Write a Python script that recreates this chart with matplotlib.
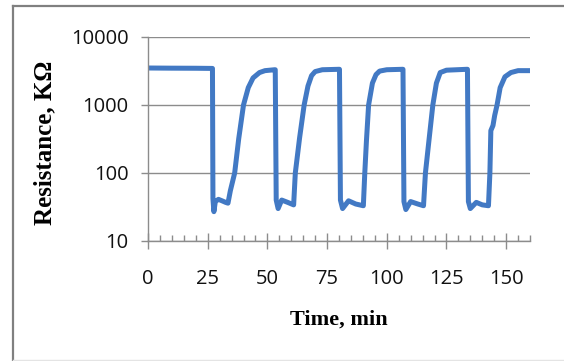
# Resistance vs time, log scale, sensor response cycles
import matplotlib.pyplot as plt
from matplotlib.ticker import FixedLocator, MultipleLocator, NullFormatter

# tiempo (min) y resistencia (kOhm)
time_min = [0, 10, 20, 27.0,
            27.2, 27.6, 28.2, 29.5, 31.0, 32.5, 33.5,
            34.5, 36.3, 38.0, 40.0, 42.0, 44.0, 46.7, 49.0, 53.0,
            53.3, 53.7, 54.5, 56.0, 58.5, 61.0,
            61.7, 63.5, 65.4, 67.0, 68.5, 70.0, 73.0, 80.0,
            80.2, 80.6, 81.5, 84.0, 87.0, 90.2,
            90.8, 91.5, 92.4, 94.0, 95.5, 97.0, 100.0, 106.6,
            106.8, 107.2, 108.0, 110.0, 113.0, 115.4,
            116.2, 117.8, 119.3, 120.8, 122.4, 125.0, 133.6,
            133.8, 134.2, 135.0, 137.5, 140.0, 142.6,
            143.2, 143.6, 144.5, 145.2, 146.2, 147.5, 149.5, 152.0, 155.0, 159.5]
resistance = [3500, 3480, 3470, 3450,
              42, 27, 38, 41, 39, 37, 36,
              55, 100, 320, 1000, 1800, 2500, 3000, 3200, 3300,
              3300, 40, 30, 40, 37, 34,
              100, 330, 1000, 1900, 2700, 3100, 3300, 3350,
              3350, 40, 30, 39, 35, 33,
              100, 300, 1000, 2100, 2800, 3150, 3300, 3350,
              3350, 38, 29, 38, 35, 33,
              100, 330, 1000, 2100, 3000, 3250, 3350,
              3350, 38, 30, 37, 34, 33,
              100, 420, 500, 700, 1000, 1800, 2600, 3000, 3200, 3200]

x_major = [0, 25, 50, 75, 100, 125, 150]
y_major = [10, 100, 1000, 10000]
y_labels = ['10', '100', '1000', '10000']

fig = plt.figure(figsize=(5.64, 3.61), dpi=100)
ax = fig.add_axes([148 / 564, 1 - 241 / 361, (530 - 148) / 564, (241 - 37) / 361])

ax.plot(time_min, resistance, '-', color='#4279c4', linewidth=3.6, solid_joinstyle='round')

ax.set_yscale('log')
ax.set_ylim(10, 10000)
ax.set_xlim(0, 160)

ax.yaxis.set_major_locator(FixedLocator(y_major))
ax.set_yticklabels(y_labels)
ax.yaxis.set_minor_locator(FixedLocator([]))
ax.yaxis.set_minor_formatter(NullFormatter())
ax.xaxis.set_major_locator(FixedLocator(x_major))
ax.xaxis.set_minor_locator(MultipleLocator(5))

ax.grid(True, axis='y', which='major', color='#8c8c8c', linewidth=1.0)
ax.set_axisbelow(True)

for s in ['top', 'right']:
    ax.spines[s].set_visible(False)
ax.spines['left'].set_color('#8c8c8c')
ax.spines['bottom'].set_color('#8c8c8c')
ax.spines['left'].set_linewidth(1.0)
ax.spines['bottom'].set_linewidth(1.0)

ax.tick_params(axis='x', which='major', direction='inout', length=12, width=1,
               color='#8c8c8c', pad=14)
ax.tick_params(axis='x', which='minor', direction='in', length=4.5, width=1,
               color='#8c8c8c')
ax.tick_params(axis='y', which='major', direction='out', length=5, width=1,
               color='#8c8c8c', pad=9)
for lab in ax.get_xticklabels() + ax.get_yticklabels():
    lab.set_fontfamily('Open Sans')
    lab.set_fontsize(14.5)
    lab.set_color('#111111')

ax.set_xlabel('Time, min', family='Liberation Serif', fontweight='bold', fontsize=16, labelpad=15)
ax.set_ylabel('Resistance, K\u03a9', family='Liberation Serif', fontweight='bold', fontsize=18)
ax.yaxis.set_label_coords(-0.24, 0.48)

# marco exterior
fig.add_artist(plt.Line2D([13 / 564, 13 / 564], [0, 1 - 6 / 361], color='#808080', linewidth=1.6,
                          transform=fig.transFigure))
fig.add_artist(plt.Line2D([13 / 564, 1], [1 - 6 / 361, 1 - 6 / 361], color='#808080', linewidth=1.6,
                          transform=fig.transFigure))
fig.add_artist(plt.Line2D([13 / 564, 1], [1.5 / 361, 1.5 / 361], color='#e4e4e4', linewidth=1.0,
                          transform=fig.transFigure))

fig.savefig('out.png', dpi=100)
